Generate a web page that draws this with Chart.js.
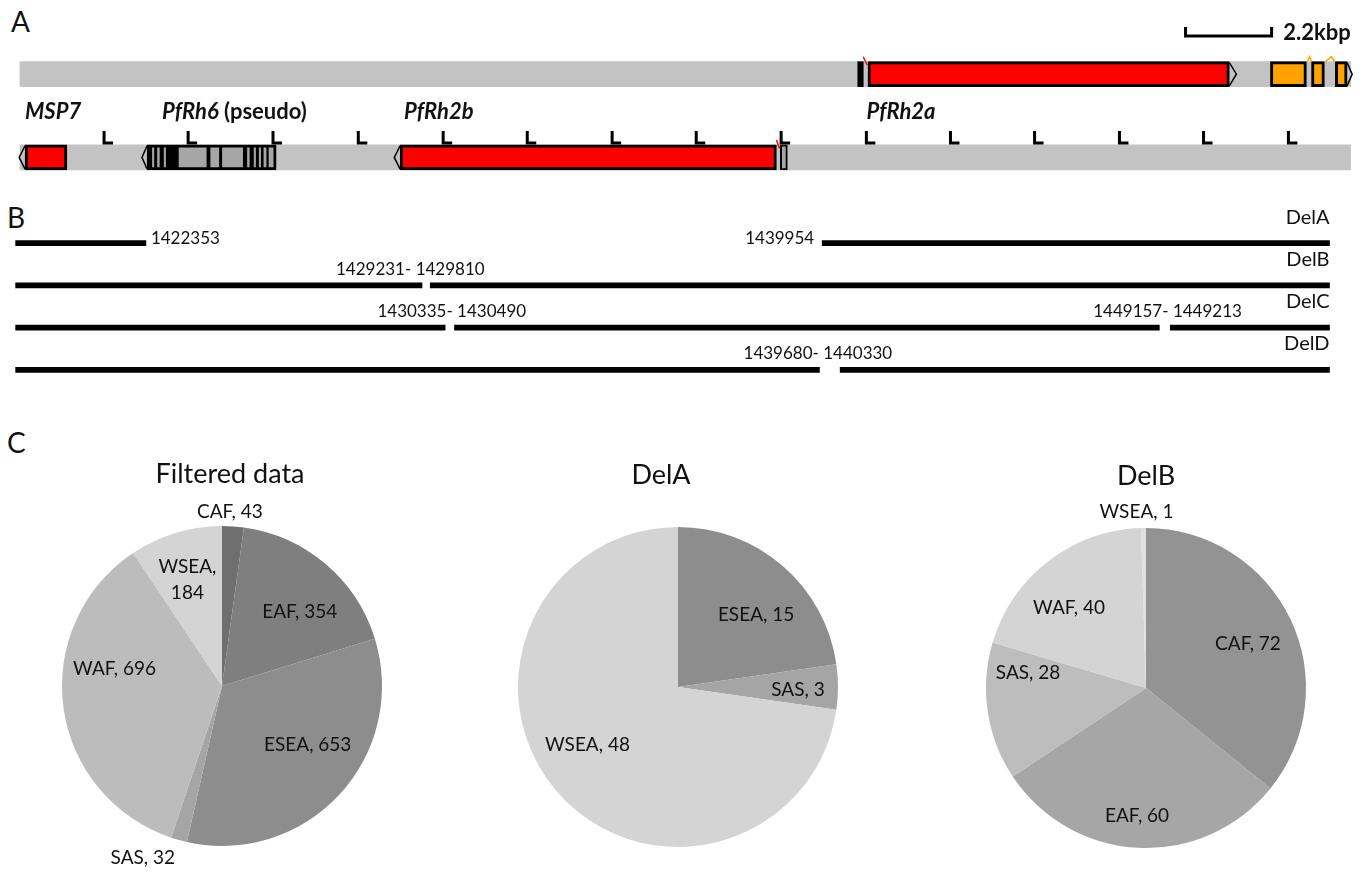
<!DOCTYPE html>
<html>
<head>
<meta charset="utf-8">
<script src="https://cdn.jsdelivr.net/npm/chart.js@4.4.1/dist/chart.umd.min.js"></script>
<style>
  html, body { margin: 0; padding: 0; background: #fff; }
  body { width: 1369px; height: 876px; position: relative; overflow: hidden; font-family: Lato, sans-serif; }
  canvas { position: absolute; }
  .panel { position: absolute; font-family: Lato, sans-serif; font-size: 28px; line-height: 28px; color: #111; }
</style>
</head>
<body>
<div class="panel" style="left:11px;top:7px">A</div>
<div class="panel" style="left:7px;top:203px">B</div>
<div class="panel" style="left:7px;top:428px">C</div>
<canvas id="geneMap" width="1369" height="208" style="left:0;top:-9px"></canvas>
<canvas id="deletions" width="1369" height="205" style="left:0;top:195px"></canvas>
<canvas id="pie0" width="420" height="420"></canvas>
<canvas id="pie1" width="420" height="420"></canvas>
<canvas id="pie2" width="420" height="420"></canvas>
<script>
// ---------------- DATA ----------------
// Panel A: positions in kbp along the schematic (2.2 kbp scale bar)
const mapRows = [1, 2];                      // 1 = upper track, 2 = lower track
const backboneSpan = [0.51, 34.53];
const redGenesUpper = [[22.19, 31.43]];                    // PfRh2a
const redGenesLower = [[0.64, 1.71], [10.23, 19.85]];      // MSP7, PfRh2b
const orangeExons = [[32.48, 33.40], [33.53, 33.86], [34.14, 34.44]];
const blackMarkUpper = [[21.93, 22.07]];
const smallBoxLower = [[19.95, 20.13]];
const pseudoGene = [3.76, 7.06];                           // PfRh6 (pseudo)
const pseudoStripes = [[3.82, 3.88], [3.95, 4.01], [4.09, 4.18], [4.25, 4.56], [5.29, 5.37],
                       [5.61, 5.67], [6.22, 6.31], [6.39, 6.48], [6.55, 6.61], [6.68, 6.73], [6.82, 6.86]];
const tickMarks = [2.66, 4.81, 6.98, 9.16, 11.33, 13.48, 15.65, 17.80, 19.97, 22.15, 24.30, 26.45, 28.62, 30.77, 32.94];
const arrowsRight = [[1, 31.43, 31.61], [1, 34.44, 34.57]];   // [row, base, tip]
const arrowsLeft = [[2, 0.64, 0.49], [2, 3.76, 3.63], [2, 10.23, 10.08]];
const spliceCarets = [[33.42, 33.48, 33.53], [33.88, 34.04, 34.12]];
const redSlashes = [[1, 22.07, 22.17], [2, 19.85, 19.93]];
const scaleBarStart = 30.31, scaleBarLength = 2.2;
const geneNames = ['MSP7', 'PfRh6', 'PfRh2b', 'PfRh2a'];
const geneNameX = [0.64, 4.14, 10.33, 22.15];

// Panel B: deletions (kbp along the same schematic)
const delNames = ['DelA', 'DelB', 'DelC', 'DelD'];
const delSeg1 = [[0.40, 3.73], [0.40, 10.79], [0.40, 11.38], [0.40, 20.95]];
const delSeg2 = [[21.02, 33.99], [11.00, 33.99], [11.62, 29.64], [21.48, 33.99]];
const delSeg3 = [null, null, [29.92, 33.99], null];
const breakpointText = ['1422353', '1439954', '1429231- 1429810', '1430335- 1430490', '1449157- 1449213', '1439680- 1440330'];
const breakpointRow = ['DelA', 'DelA', 'DelB', 'DelC', 'DelC', 'DelD'];
const breakpointAt = [3.73, 21.02, 10.49, 11.55, 29.85, 20.91];

// Panel C: pies
const pieTitles = ['Filtered data', 'DelA', 'DelB'];
const filteredRegions = ['CAF', 'EAF', 'ESEA', 'SAS', 'WAF', 'WSEA'];
const filteredCounts = [43, 354, 653, 32, 696, 184];
const delARegions = ['ESEA', 'SAS', 'WSEA'];
const delACounts = [15, 3, 48];
const delBRegions = ['CAF', 'EAF', 'SAS', 'WAF', 'WSEA'];
const delBCounts = [72, 60, 28, 40, 1];

// ---------------- STYLE / LAYOUT ----------------
Chart.defaults.font.family = 'Lato';
const TXT = '#111';
const ROW_H = 0.15;          // half track height (row units)
const L_TOP = 1.683, L_BOT = 1.827, L_FOOT = 0.23;

const textPlugin = {
  id: 'textMarks',
  afterDatasetsDraw(chart, args, opts) {
    const ctx = chart.ctx, xs = chart.scales.x, ys = chart.scales.y;
    ctx.save();
    ctx.fillStyle = TXT;
    ctx.textBaseline = 'middle';
    (opts.items || []).forEach(it => {
      let x = xs.getPixelForValue(it.x);
      const yv = typeof it.y === 'string' ? ys.getPixelForValue(ys.getLabels().indexOf(it.y)) : ys.getPixelForValue(it.y);
      const y = yv + (it.dy || 0);
      const parts = it.parts || [{text: it.text, font: it.font}];
      let total = 0;
      parts.forEach(p => { ctx.font = p.font; total += ctx.measureText(p.text).width; });
      if (it.align === 'center') x -= total / 2;
      else if (it.align === 'right') x -= total;
      x += (it.dx || 0);
      ctx.textAlign = 'left';
      parts.forEach(p => { ctx.font = p.font; ctx.fillText(p.text, x, y); x += ctx.measureText(p.text).width; });
    });
    ctx.restore();
  }
};

function barSet(label, data, color, thick, border, order) {
  return {type: 'bar', indexAxis: 'y', label, data, backgroundColor: color,
    borderColor: '#000', borderWidth: border, borderSkipped: false, grouped: false,
    barPercentage: 1, categoryPercentage: 1, maxBarThickness: thick, order};
}
function lineSet(label, data, color, width, order) {
  return {type: 'line', label, data, borderColor: color, borderWidth: width, pointRadius: 0,
    fill: false, tension: 0, spanGaps: false, borderCapStyle: 'butt', borderJoinStyle: 'miter', order};
}
const onRow = (row, spans) => spans.map(s => ({y: row, x: s}));

const lPts = [];
tickMarks.forEach(x => lPts.push({x, y: L_TOP}, {x, y: L_BOT}, {x: x + L_FOOT, y: L_BOT}, {x: x + L_FOOT, y: null}));
const arrowPts = [];
arrowsRight.concat(arrowsLeft).forEach(([r, b, t]) => arrowPts.push({x: b, y: r - 0.14}, {x: t, y: r}, {x: b, y: r + 0.14}, {x: b, y: null}));
const caretPts = [];
spliceCarets.forEach(([a, m, b]) => caretPts.push({x: a, y: 1 - ROW_H}, {x: m, y: 1 - ROW_H - 0.06}, {x: b, y: 1 - ROW_H}, {x: b, y: null}));
const slashPts = [];
redSlashes.forEach(([r, a, b]) => slashPts.push({x: a, y: r - ROW_H - 0.06}, {x: b, y: r - ROW_H + 0.04}, {x: b, y: null}));
const scalePts = [{x: scaleBarStart, y: 0.433}, {x: scaleBarStart, y: 0.541},
                  {x: scaleBarStart + scaleBarLength, y: 0.541}, {x: scaleBarStart + scaleBarLength, y: 0.433}];

const BI = 'italic bold 22px Lato', B = 'bold 22px Lato';
new Chart(document.getElementById('geneMap'), {
  type: 'bar',
  data: {datasets: [
    barSet('backbone', mapRows.map(r => ({y: r, x: backboneSpan})), '#c3c3c3', 25, 0, 10),
    barSet('PfRh2a', onRow(1, redGenesUpper), '#ff0000', 25, 3, 6),
    barSet('black mark', onRow(1, blackMarkUpper), '#000', 25, 0, 6),
    barSet('orange exons', onRow(1, orangeExons), '#ffa200', 25, 3, 6),
    barSet('MSP7 / PfRh2b', onRow(2, redGenesLower), '#ff0000', 25, 3, 6),
    barSet('PfRh6', onRow(2, [pseudoGene]), '#a6a6a6', 25, 3, 6),
    barSet('PfRh6 stripes', onRow(2, pseudoStripes), '#000', 23, 0, 5),
    barSet('small box', onRow(2, smallBoxLower), '#a6a6a6', 25, 2, 6),
    lineSet('ticks', lPts, '#000', 3, 1),
    lineSet('arrowheads', arrowPts, '#000', 1.5, 2),
    lineSet('carets', caretPts, '#ffa200', 1.5, 2),
    lineSet('slashes', slashPts, '#ff0000', 1.5, 1),
    lineSet('scale bar', scalePts, '#000', 3, 1)
  ]},
  options: {
    responsive: false, animation: false, events: [],
    layout: {padding: 0},
    plugins: {
      legend: {display: false}, tooltip: {enabled: false},
      textMarks: {items: [
        {x: geneNameX[0], y: 1.454, text: geneNames[0], font: BI},
        {x: geneNameX[1], y: 1.454, parts: [{text: geneNames[1], font: BI}, {text: ' (pseudo)', font: B}]},
        {x: geneNameX[2], y: 1.454, text: geneNames[2], font: BI},
        {x: geneNameX[3], y: 1.454, text: geneNames[3], font: BI},
        {x: scaleBarStart + scaleBarLength + 0.3, y: 0.505, text: scaleBarLength + 'kbp', font: B}
      ]}
    },
    scales: {
      x: {type: 'linear', min: 0, max: 35, display: false, offset: false, grid: {offset: false}},
      y: {type: 'linear', min: 0, max: 2.5, reverse: true, display: false, offset: false, ticks: {stepSize: 0.5}}
    }
  },
  plugins: [textPlugin]
});

const F = '17px Lato';
const bpItems = breakpointText.map((t, i) => {
  const base = {x: breakpointAt[i], y: breakpointRow[i], text: t, font: F};
  if (i === 0) return Object.assign(base, {align: 'left', dx: 5, dy: -5});
  if (i === 1) return Object.assign(base, {align: 'right', dx: -8, dy: -5});
  return Object.assign(base, {align: 'center', dy: -16});
});
const rowItems = delNames.map(n => ({x: 33.99, y: n, text: n, font: '20px Lato', align: 'right', dy: -26}));

new Chart(document.getElementById('deletions'), {
  type: 'bar',
  data: {labels: delNames, datasets: [
    barSet('segment 1', delSeg1, '#000', 5, 0, 3),
    barSet('segment 2', delSeg2, '#000', 5, 0, 3),
    barSet('segment 3', delSeg3, '#000', 5, 0, 3)
  ]},
  options: {
    responsive: false, animation: false, events: [],
    layout: {padding: {top: 27, bottom: 9, left: 0, right: 0}},
    plugins: {legend: {display: false}, tooltip: {enabled: false},
      textMarks: {items: bpItems.concat(rowItems)}},
    scales: {
      x: {type: 'linear', min: 0, max: 35, display: false, offset: false, grid: {offset: false}},
      y: {type: 'category', display: false, offset: true}
    }
  },
  plugins: [textPlugin]
});

// ---------------- PIES ----------------
const pieText = {
  id: 'pieText',
  afterDatasetsDraw(chart, args, opts) {
    const ctx = chart.ctx, meta = chart.getDatasetMeta(0);
    const ds = chart.data.datasets[0], labels = chart.data.labels;
    const a0 = meta.data[0], cx = a0.x, cy = a0.y, r = a0.outerRadius;
    ctx.save();
    ctx.fillStyle = TXT; ctx.textAlign = 'center'; ctx.textBaseline = 'middle';
    ctx.font = '27px Lato';
    ctx.fillText(opts.title, cx + opts.titleDx, cy - 212);
    ctx.font = '19px Lato';
    meta.data.forEach((arc, i) => {
      const p = opts.places[i];
      const a = p[0] * Math.PI / 180;
      const x = cx + Math.sin(a) * r * p[1], y = cy - Math.cos(a) * r * p[1];
      const text = labels[i] + ', ' + ds.data[i];
      const lines = p[2] ? text.split(' ') : [text];
      lines.forEach((ln, k) => ctx.fillText(ln, x, y + (k - (lines.length - 1) / 2) * 26));
    });
    ctx.restore();
  }
};

const pies = [
  {regions: filteredRegions, counts: filteredCounts, center: [222, 686], titleDx: 8,
   colors: ['#6f6f6f', '#7f7f7f', '#8d8d8d', '#a5a5a5', '#bcbcbc', '#d4d4d4'],
   places: [[2.6, 1.09], [46.5, 0.67], [124.5, 0.65], [204.8, 1.18], [279, 0.68], [342, 0.70, true]]},
  {regions: delARegions, counts: delACounts, center: [678, 687], titleDx: -17,
   colors: ['#8d8d8d', '#a5a5a5', '#d4d4d4'],
   places: [[47.1, 0.666], [91.2, 0.75], [237.6, 0.67]]},
  {regions: delBRegions, counts: delBCounts, center: [1146, 688], titleDx: 0,
   colors: ['#939393', '#a6a6a6', '#bdbdbd', '#d4d4d4', '#e0e0e0'],
   places: [[66.7, 0.694], [184, 0.80], [277.2, 0.743], [316.1, 0.694], [356.9, 1.10]]}
];

pies.forEach((p, i) => {
  const cv = document.getElementById('pie' + i);
  cv.style.left = (p.center[0] - 210) + 'px';
  cv.style.top = (p.center[1] - 230) + 'px';
  new Chart(cv, {
    type: 'pie',
    data: {labels: p.regions, datasets: [{data: p.counts, backgroundColor: p.colors, borderWidth: 0, hoverOffset: 0, offset: 0}]},
    options: {
      responsive: false, animation: false, events: [],
      layout: {padding: {left: 50, right: 50, top: 70, bottom: 30}},
      plugins: {legend: {display: false}, tooltip: {enabled: false},
        pieText: {title: pieTitles[i], titleDx: p.titleDx, places: p.places}}
    },
    plugins: [pieText]
  });
});
</script>
</body>
</html>
